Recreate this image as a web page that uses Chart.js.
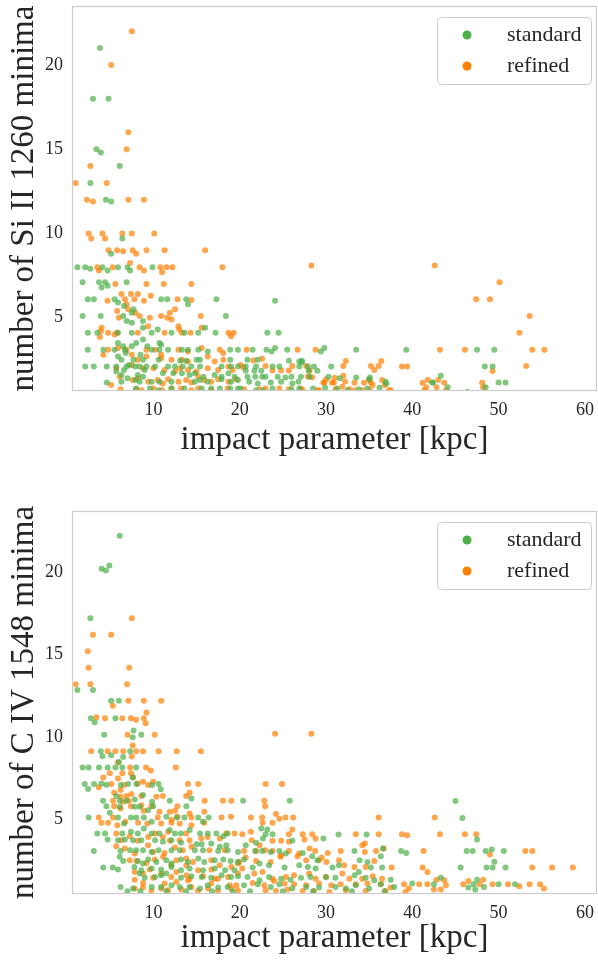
<!DOCTYPE html>
<html>
<head>
<meta charset="utf-8">
<script src="https://cdn.jsdelivr.net/npm/chart.js@4.4.1/dist/chart.umd.min.js"></script>
<style>
  html, body { margin: 0; padding: 0; background: #fff; }
  .panel { position: absolute; left: 0; width: 598px; height: 480px; }
</style>
</head>
<body>
<div class="panel" style="top:0"><canvas id="siChart" width="598" height="480"></canvas></div>
<div class="panel" style="top:480px"><canvas id="civChart" width="598" height="480"></canvas></div>
<script>
const seriesLabels = ['standard', 'refined'];
const seriesColors = ['#4daf4a', '#ff7f00'];
const xTickValues = [10, 20, 30, 40, 50, 60];
const yTickValues = [5, 10, 15, 20];

// Si II 1260 panel, [impact parameter, number of minima]
const siStandard = [
  [3.8,21],[3.0,18],[4.8,18],[3.4,15],[3.9,14.8],[6.1,14],[2.7,13],[4.5,12],[5.1,11.9],[6.4,9.7],[5.1,8.8],
  [1.2,8],[2.1,8],[2.7,7.9],[4.1,8],[4.7,7.8],[5.9,8],[7.0,8],[7.3,7.8],[9.9,8],
  [1.8,7.1],[3.7,7.1],[4.4,7.1],[4.0,6.8],[4.7,6.9],[6.9,7.1],
  [2.4,6.1],[3.1,6.1],[5.5,6.1],[5.9,5.9],[6.6,5.7],[10.9,6.1],[11.6,6.1],[13.8,6.1],[14.0,5.8],[17.3,6.1],[24.1,6.0],
  [7.7,5.5],[1.8,5.1],[3.9,5.1],[6.5,5.1],[7.5,5.3],[18.4,5.1],[6.9,4.8],[7.5,4.7],[8.8,4.8],
  [2.4,4.1],[3.5,4.1],[5.9,4.1],[7.5,4.1],[8.8,4.4],[9.8,4.1],[10.5,4.3],[12.1,4.1],[13.6,4.1],[15.2,4.1],[16.0,4.4],[17.2,4.1],[23.2,4.1],[24.5,4.1],
  [5.9,3.5],[8.0,3.5],[8.8,3.7],[10.7,3.5],[10.9,3.4],[6.5,3.3],[9.3,3.3],
  [2.4,3.1],[4.2,3.1],[5.5,3.1],[6.7,3.1],[7.5,3.3],[9.8,3.1],[10.7,3.1],[11.7,3.1],[13.3,3.1],[14.0,3.1],[15.2,3.1],[16.3,3.0],[18.9,3.1],[19.8,3.1],
  [21.5,3.1],[23.1,3.1],[23.7,3.0],[24.1,3.2],[25.5,3.1],[29.4,3.0],[29.8,3.2],[33.5,3.1],[39.3,3.1],[47.5,3.1],[49.5,3.1],
  [5.9,2.7],[6.3,2.5],[6.8,2.9],[7.7,2.5],[8.5,2.8],[8.8,2.5],[10.6,2.5],[13.1,2.45],[13.8,2.45],[15.0,2.5],[15.4,2.5],[18.9,2.5],[20.9,2.5],[22.1,2.5],[25.7,2.45],[27.2,2.45],[26.9,2.4],[27.2,2.35],
  [2.1,2.1],[3.1,2.1],[4.6,2.1],[5.7,2.1],[6.9,2.1],[7.2,2.2],[7.9,2.1],[8.4,2.1],[9.2,2.1],[10.2,2.1],[11.7,2.1],[12.5,2.1],[13.4,2.1],[14.4,2.1],[15.4,2.1],[17.9,2.1],[19.0,2.1],[19.8,2.1],
  [20.7,2.1],[21.9,2.1],[23.8,2.1],[24.6,2.1],[26.9,2.1],[27.9,2.1],[28.6,2.1],[30.6,2.1],[48.4,2.1],[49.3,2.1],
  [5.7,1.8],[6.3,1.6],[6.6,1.9],[8.2,1.6],[8.8,1.5],[9.0,1.9],[11.1,1.7],[12.3,1.7],[13.3,1.7],[14.2,1.6],[14.8,1.7],[15.8,1.5],[17.1,1.6],[17.9,1.5],[18.7,1.7],[19.4,1.5],
  [20.7,1.85],[21.7,1.85],[22.5,1.85],[28.0,1.85],[29.0,1.85],
  [20.9,1.5],[21.8,1.5],[22.6,1.5],[23.0,1.5],[24.4,1.5],[25.3,1.45],[26.0,1.5],[27.1,1.5],[28.1,1.5],[30.3,1.5],[33.5,1.45],[35.1,1.45],[43.3,1.55],
  [4.6,1.15],[6.3,1.2],[7.0,1.4],[7.9,1.3],[8.4,1.2],[9.8,1.2],[10.7,1.2],[12.1,1.2],[14.8,1.2],[15.4,1.3],[16.3,1.2],[17.9,1.35],[19.0,1.2],[19.8,1.3],
  [21.1,1.2],[22.1,1.1],[23.6,1.15],[24.8,1.2],[26.1,1.1],[26.8,1.2],[31.6,1.4],[35.0,1.35],[36.9,1.2],[42.4,1.15],[50.0,1.15],[50.8,1.15],
  [8.0,0.8],[9.6,0.8],[10.6,0.7],[12.1,0.8],[13.6,0.8],[15.6,0.8],[16.7,0.8],[17.7,0.8],[18.9,0.8],[19.8,0.8],
  [20.1,0.8],[21.9,0.7],[22.7,0.7],[23.8,0.8],[26.0,0.75],[26.9,0.8],[28.5,0.8],[29.9,0.85],[31.3,0.8],[32.5,0.7],[33.8,0.75],[34.8,0.8],[36.2,0.85],[37.0,1.1],[42.3,1.15],[44.1,0.87],[48.5,0.87],[46.4,0.6]
];

const siRefined = [
  [7.5,22],[5.1,20],[7.1,16],[6.9,15],[2.7,14],[1.0,13],[4.6,13],[2.3,12],[3.0,11.9],[7.1,12],[8.9,12],
  [2.5,10],[2.8,9.7],[4.1,10],[4.4,9.7],[6.4,10],[7.5,10],[10.1,10],
  [4.8,9],[5.8,9],[6.5,8.95],[7.6,9],[8.0,8.8],[9.2,9],[11.3,9],[16.0,9],
  [3.5,8],[3.7,7.8],[5.3,8],[7.3,8.25],[8.4,8],[8.9,7.8],[10.8,8],[11.0,7.7],[11.5,8],[12.2,8],[18.0,8],[28.3,8.1],[42.6,8.1],
  [5.6,7],[9.2,7],[11.2,7],[14.4,7],[50.1,7.1],
  [4.7,6.0],[6.3,6.4],[7.4,6.4],[8.2,6.4],[9.7,6.3],[6.7,6.1],[7.8,6.1],[8.9,6.0],[12.8,6.1],[14.4,6.05],[47.4,6.1],[49.0,6.1],
  [6.9,5.8],[7.1,5.5],[7.9,5.3],[8.4,5.1],[9.6,5.0],[10.9,5.1],[11.9,5.3],[12.5,5.5],[12.1,4.9],[11.6,5.0],[12.9,4.5],[15.5,5.1],[5.8,5.4],[6.0,5.0],
  [53.6,5.1],[52.4,4.1],
  [4.0,4.4],[4.75,4.1],[5.8,4.1],[3.8,3.85],[3.9,4.2],[5.5,4.0],[8.2,4.1],[9.4,4.5],[11.3,4.1],[13.3,4.1],[14.3,4.1],[13.0,4.3],[15.6,4.4],[18.7,4.1],[19.3,4.1],[19.0,3.9],
  [4.75,3.1],[5.9,3.2],[6.9,3.1],[9.2,3.1],[10.2,3.1],[12.9,3.1],[14.0,3.0],[15.6,3.2],[17.7,3.1],[20.8,3.1],[26.7,3.1],[28.8,3.1],[43.2,3.1],[46.1,3.1],[53.9,3.1],[55.3,3.1],
  [4.2,2.8],[7.5,2.8],[10.9,2.8],[18.1,2.9],[8.2,2.5],[9.2,2.7],[10.9,2.6],[12.1,2.5],[13.3,2.5],[14.0,2.4],[16.3,2.7],[17.1,2.4],[18.1,2.5],[21.6,2.46],[22.6,2.57],[32.3,2.43],[36.4,2.43],
  [5.7,2.0],[7.5,2.2],[8.8,2.0],[10.0,2.0],[11.3,1.9],[12.5,1.8],[13.1,2.0],[14.0,1.9],[15.0,1.8],[16.3,2.0],[17.5,1.9],[18.7,2.1],[19.2,1.9],
  [20.1,2.2],[20.4,2.06],[23.0,2.14],[23.8,1.86],[24.8,1.86],[25.7,1.86],[26.1,2.14],[27.7,2.14],[28.1,1.86],[32.0,2.13],[35.2,2.13],[36.1,2.13],[35.6,1.9],[38.8,2.1],[39.4,2.1],[53.2,2.13],[49.3,1.84],
  [5.1,1.0],[6.1,1.5],[7.6,1.3],[8.2,1.4],[9.4,1.2],[10.5,1.3],[11.1,1.1],[11.7,1.35],[12.9,1.2],[13.8,1.3],[14.4,1.15],[15.2,1.5],[15.9,1.3],[16.7,1.2],[17.5,1.35],[18.7,1.2],[19.6,1.35],
  [27.9,1.51],[28.4,1.47],[30.0,1.35],[29.8,1.15],[30.9,1.15],[32.0,1.55],[32.2,1.21],[35.2,1.15],[35.0,1.31],[36.5,1.3],[36.8,1.0],
  [29.7,1.14],[31.0,1.44],[30.7,1.14],[31.9,0.9],[33.3,1.14],[34.4,1.14],[35.4,1.0],
  [41.2,1.14],[41.8,1.3],[41.6,0.87],[42.8,0.87],[43.0,1.3],[43.7,1.14],[48.1,1.14],[48.2,0.87],
  [6.2,0.75],[8.0,0.75],[8.6,0.7],[10.0,0.8],[11.0,0.7],[12.1,0.8],[13.2,0.8],[14.4,0.7],[15.2,0.8],[16.7,0.7],[18.6,0.8],
  [20.5,0.75],[22.3,0.75],[23.0,0.8],[24.6,0.8],[25.7,0.75],[27.1,0.8],[29.2,0.7],[31.1,0.75],[32.7,0.75],[34.2,0.7],[37.5,0.7],
  [27.3,0.7],[29.0,0.7],[33.3,0.7],[35.1,0.7],[37.3,0.7],[41.4,0.7],[43.9,0.7]
];

// C IV 1548 panel, [impact parameter, number of minima]
const civStandard = [
  [6.1,22.2],[4.0,20.2],[4.5,20.1],[4.9,20.4],[2.7,17.2],
  [1.2,12.85],[3.0,12.85],[5.1,12.2],[6.0,12.2],[2.75,11.15],[3.2,10.9],[5.6,11.15],[7.7,10.4],[7.6,10.0],[8.6,10.15],[4.3,10.15],
  [3.9,9.15],[7.3,9.15],[4.1,8.85],[5.1,8.9],[6.5,8.8],[6.0,8.5],
  [1.8,8.16],[2.5,8.16],[3.7,8.16],[4.7,8.16],[5.6,8.16],[6.4,8.16],[8.0,8.16],[7.6,7.57],
  [2.05,7.16],[2.44,6.86],[3.13,7.16],[3.98,7.2],[4.56,7.12],[6.22,7.1],[7.07,7.16],[8.03,7.16],[9.85,7.1],[10.6,7.16],[10.85,6.84],
  [5.72,6.43],[6.1,6.15],[6.88,6.15],[7.84,6.23],[8.8,6.49],[9.85,6.09],[11.9,6.15],
  [4.17,6.15],[4.56,5.82],[4.95,5.42],[6.1,5.78],[7.84,5.78],[8.42,5.78],[9.38,5.58],[9.96,5.82],[13.82,5.82],[14.4,6.29],
  [2.5,5.14],[5.9,5.14],[6.6,4.77],[7.4,5.14],[8.0,5.14],[8.9,5.14],[9.8,4.87],[11.5,5.18],[12.7,5.14],[13.6,5.14],[15.2,5.14],[15.75,4.87],[16.4,5.14],
  [3.5,4.16],[4.4,4.16],[6.4,4.16],[7.4,4.27],[8.9,4.47],[8.2,4.16],[9.8,4.16],[10.7,4.16],[11.9,4.37],[12.5,4.16],[13.2,4.16],[14.2,4.37],[15.4,4.16],[16.3,4.16],[17.3,4.16],[18.1,4.0],[18.6,4.16],
  [4.7,3.8],[5.9,3.76],[6.7,3.8],[7.65,3.76],[8.6,3.76],[10.2,3.76],[11.1,3.66],[12.1,3.76],[13.2,3.6],[15.0,3.52],[15.6,3.52],[16.7,3.56],[17.7,3.36],[18.45,3.46],
  [3.1,3.11],[6.2,3.11],[7.3,3.15],[8.0,3.15],[8.8,3.15],[9.8,3.05],[10.6,3.15],[12.1,3.15],[13.05,3.15],[14.8,3.15],[15.75,3.15],[17.5,3.11],[18.6,3.15],[19.8,3.05],
  [6.1,2.75],[6.5,2.5],[8.2,2.5],[8.8,2.34],[9.4,2.59],[10.35,2.44],[11.5,2.55],[12.1,2.34],[13.2,2.59],[14.0,2.44],[15.2,2.65],[15.9,2.44],[17.1,2.55],[18.1,2.59],[18.95,2.5],[19.8,2.44],
  [4.2,2.1],[5.3,2.1],[5.9,1.98],[7.8,2.14],[8.6,1.94],[9.8,2.04],[10.9,1.98],[12.1,2.14],[13.2,1.94],[14.2,2.04],[15.75,1.94],[17.1,2.04],[18.3,1.94],[19.4,1.94],
  [8.4,1.74],[9.0,1.49],[10.2,1.53],[10.9,1.63],[11.5,1.74],[13.2,1.49],[14.4,1.57],[15.6,1.53],[16.7,1.49],[17.9,1.63],[19.0,1.53],[19.8,1.57],
  [6.2,0.93],[7.65,0.83],[9.8,0.93],[10.9,0.93],[12.1,1.03],[13.05,0.93],[14.2,0.93],[15.4,0.83],[16.3,1.03],[17.5,0.89],[18.6,0.93],
  [7.0,0.66],[8.5,0.66],[11.5,0.66],[13.8,0.66],[16.8,0.66],[19.2,0.66],
  [20.4,6.15],[25.8,6.15],[31.45,4.1],[34.7,4.1],
  [22.5,4.47],[23.2,4.41],[23.8,4.12],[23.0,4.12],[26.1,3.72],[29.7,3.86],[22.7,3.86],[21.9,3.6],[20.7,3.46],
  [21.8,3.11],[22.6,3.11],[23.6,3.05],[24.6,3.11],[25.35,2.95],[27.3,2.99],[28.4,2.79],[29.0,2.55],[33.3,3.11],[33.9,2.55],[34.8,2.44],[36.35,2.79],[36.6,3.25],[38.7,3.11],[39.3,2.99],
  [20.5,2.59],[21.5,2.1],[22.3,2.34],[23.4,2.24],[25.2,2.1],[26.9,2.24],[27.9,2.14],[28.8,2.04],[30.75,2.1],[31.5,2.24],[33.8,1.84],[35.2,2.1],[36.5,2.1],
  [20.9,1.53],[22.3,1.33],[23.4,1.53],[24.8,1.43],[25.9,1.37],[27.1,1.49],[28.2,1.53],[30.0,1.53],[31.1,1.49],[33.3,1.63],[34.6,1.49],[35.6,1.33],[37.5,1.37],[40.0,1.13],
  [20.5,1.03],[22.1,1.09],[23.6,0.93],[24.6,1.09],[26.1,0.83],[27.7,0.93],[29.2,0.89],[31.1,0.93],[32.3,0.83],[33.45,1.03],[35.0,0.83],[36.35,1.09],[37.9,0.93],
  [21.2,0.66],[25.0,0.66],[28.5,0.66],[33.0,0.66],[36.8,0.66],
  [45.0,6.13],[45.8,5.1],[47.5,3.8],[46.3,3.11],[47.0,3.11],[48.5,3.11],[49.2,3.19],[50.6,3.11],[49.5,2.45],[45.6,2.1],[48.6,2.1],[49.3,2.1],[50.8,2.1],
  [43.3,1.49],[42.5,1.09],[47.5,1.37],[47.1,1.09],[48.3,0.93],[46.5,0.89],[47.3,0.77],[50.0,1.09],[51.9,1.09]
];

const civRefined = [
  [7.5,17.2],[3.0,16.2],[5.1,16.2],[2.4,15.2],[2.5,14.2],[7.2,14.2],[1.0,13.2],[2.7,13.2],[6.95,13.2],
  [7.1,12.2],[8.9,12.2],[10.9,12.2],[5.3,11.9],[9.2,11.5],
  [3.4,11.2],[4.4,11.15],[6.4,11.15],[7.4,11.15],[8.0,11.05],[8.9,11.15],[9.1,10.85],
  [7.0,10.15],[10.15,10.15],[24.1,10.2],[28.3,10.2],
  [2.8,9.15],[4.7,9.15],[5.6,9.15],[6.5,9.15],[8.0,9.15],[8.8,9.15],[10.6,9.15],[12.7,9.15],[15.5,9.15],
  [7.6,9.5],[7.5,8.83],[5.9,8.46],[7.3,8.16],[9.15,8.16],[12.6,8.16],[9.7,7.98],
  [4.2,7.56],[4.95,7.81],[5.9,7.5],[6.4,7.81],[7.4,7.81],[7.65,7.56],
  [3.67,6.96],[5.14,7.16],[6.2,6.8],[6.6,7.1],[8.2,7.2],[8.8,7.3],[9.4,7.1],[9.96,7.3],[14.0,7.16],[15.2,7.16],
  [5.45,6.63],[6.2,6.39],[6.88,6.43],[7.45,6.55],[8.6,6.43],[10.35,6.39],[11.1,6.43],[13.8,6.43],[14.2,6.63],
  [5.33,6.15],[6.49,6.09],[7.15,6.15],[8.6,5.88],[9.77,5.82],[12.78,5.82],[15.94,6.15],[18.06,6.15],[19.03,6.15],
  [5.45,5.82],[6.2,5.68],[7.4,5.82],[8.9,5.54],[10.7,5.48],[11.9,5.48],[12.5,5.54],[12.8,5.18],[12.1,5.0],[14.2,5.38],[15.9,5.48],
  [3.67,5.14],[3.98,4.81],[4.75,4.81],[5.33,5.14],[5.83,4.67],[6.76,4.87],[8.23,4.81],[9.3,4.77],[10.5,5.14],[10.9,4.77],[12.1,4.81],[13.05,4.77],[14.4,5.14],[14.4,4.67],[15.9,4.81],[17.9,5.14],[19.0,5.18],
  [5.7,4.16],[6.3,3.76],[7.26,4.0],[8.2,3.72],[9.4,3.96],[10.2,4.16],[11.1,3.96],[11.7,4.27],[11.9,3.72],[13.05,3.76],[13.8,4.16],[14.2,3.76],[15.55,3.86],[16.3,3.96],[17.7,3.86],[18.45,4.16],[19.4,4.16],
  [5.7,3.4],[6.7,3.25],[7.84,2.95],[9.38,3.46],[9.96,3.05],[11.3,2.99],[12.5,3.31],[13.4,3.15],[14.4,3.36],[16.5,3.15],[18.26,3.15],
  [7.26,2.55],[8.03,2.5],[9.19,2.38],[10.16,2.59],[11.12,2.75],[12.08,2.24],[12.66,2.55],[13.82,2.65],[13.82,2.24],[14.59,2.44],[16.71,2.55],[17.68,2.24],[19.03,2.14],[19.8,2.34],
  [7.84,1.84],[8.8,1.74],[9.58,1.98],[10.93,1.74],[12.08,1.53],[12.66,1.84],[13.82,1.63],[14.2,1.43],[15.17,1.94],[15.75,1.57],[16.71,1.98],[17.1,1.43],[18.64,1.53],[19.8,1.74],
  [7.84,1.37],[8.8,1.17],[9.96,1.49],[11.3,1.13],[12.66,1.23],[14.01,1.33],[14.4,0.93],[16.71,1.13],[17.48,1.43],[18.84,1.03],[19.6,1.03],
  [7.84,0.83],[8.8,0.89],[9.77,0.68],[10.93,0.83],[11.7,0.72],[13.24,0.77],[15.17,0.68],[16.33,0.83],[17.48,0.68],[19.03,0.83],[19.8,0.72],
  [23.0,7.16],[24.9,7.16],[22.85,6.15],[22.95,5.82],
  [24.2,5.34],[24.6,5.06],[25.3,5.14],[26.2,5.14],[21.3,5.14],[22.6,5.14],[22.65,4.81],[23.8,4.81],[36.1,5.14],[42.6,5.14],
  [20.3,4.12],[21.3,4.27],[25.7,4.12],[26.1,4.41],[27.3,4.12],[28.4,4.12],[33.45,4.12],[36.1,4.12],[38.8,4.12],[39.4,4.06],
  [21.4,3.76],[22.3,3.46],[23.8,3.72],[24.8,3.72],[25.7,3.66],[27.5,3.8],[28.8,3.86],[34.2,3.46],[34.5,3.56],[35.8,3.11],[36.7,3.25],
  [20.5,3.11],[21.9,3.11],[22.95,3.15],[23.8,3.11],[24.8,2.85],[25.7,3.11],[26.9,2.95],[28.1,3.25],[28.75,3.11],[29.5,2.71],[30.2,2.99],[31.7,3.11],[34.5,3.05],[41.3,3.11],
  [19.95,2.44],[20.7,2.71],[21.9,2.5],[23.6,2.44],[24.7,2.75],[26.7,2.79],[27.7,2.55],[29.2,2.55],[30.05,2.44],[31.5,2.55],[32.1,2.24],[33.3,2.14],[34.6,2.14],[35.6,2.5],[37.6,2.1],[41.2,2.1],[41.75,1.84],
  [20.3,2.04],[21.7,1.74],[22.65,1.84],[23.8,1.43],[25.35,1.53],[26.3,1.63],[28.05,1.74],[28.8,1.43],[30.0,1.53],[31.9,1.74],[32.7,1.43],[34.2,1.43],[35.4,1.57],[36.5,1.43],[39.05,1.09],[40.8,1.09],[41.75,1.09],
  [21.5,1.17],[22.85,1.03],[24.0,1.29],[25.2,1.13],[26.3,1.09],[27.7,1.03],[29.2,1.13],[30.6,1.03],[31.7,1.09],[33.45,1.09],[34.8,1.13],[36.35,1.09],[37.5,0.89],[39.6,0.83],
  [23.0,0.72],[24.2,0.68],[25.55,0.77],[27.3,0.68],[28.6,0.68],[30.4,0.62],[32.3,0.72],[34.6,0.68],[36.9,0.68],[39.2,0.62],
  [43.2,4.12],[46.1,4.12],[47.4,4.12],[49.0,2.89],[53.1,3.11],[53.9,3.11],[53.9,2.1],[56.2,2.1],[58.6,2.1],
  [42.8,1.37],[43.7,1.33],[43.9,1.03],[45.9,1.09],[46.5,1.29],[47.8,1.09],[48.2,1.37],[49.3,1.09],[51.1,1.09],[52.4,0.97],[53.6,1.09],[54.8,1.09],[55.25,0.83],[43.3,0.77],[42.5,0.77]
];

const textColor = '#262626';
const fontFamily = '"Liberation Serif", "Times New Roman", serif';

function toPoints(pairs) {
  return pairs.map(p => ({ x: p[0], y: p[1] }));
}

function fixTicks(values) {
  return scale => { scale.ticks = values.map(v => ({ value: v })); };
}

// axes frame on all four sides + legend box like the seaborn one
const frameAndLegend = {
  id: 'frameAndLegend',
  afterDraw(chart) {
    const { ctx, chartArea: a } = chart;
    ctx.save();
    ctx.strokeStyle = '#cccccc';
    ctx.lineWidth = 1.2;
    ctx.strokeRect(a.left + 0.5, a.top + 0.5, a.right - a.left - 1, a.bottom - a.top - 1);

    const w = 154, h = 67;
    const bx = a.right - 6 - w, by = a.top + 11;
    ctx.fillStyle = 'rgba(255,255,255,0.8)';
    ctx.lineWidth = 1;
    ctx.beginPath();
    ctx.roundRect(bx + 0.5, by + 0.5, w, h, 4);
    ctx.fill();
    ctx.stroke();

    ctx.font = '22px ' + fontFamily;
    ctx.textBaseline = 'middle';
    ctx.textAlign = 'left';
    chart.data.datasets.forEach((ds, i) => {
      const cy = by + 18 + i * 31;
      ctx.fillStyle = seriesColors[i];
      ctx.beginPath();
      ctx.arc(bx + 30, cy, 4.5, 0, Math.PI * 2);
      ctx.fill();
      ctx.fillStyle = textColor;
      ctx.fillText(ds.label, bx + 70, cy);
    });
    ctx.restore();
  }
};

function makeChart(id, std, ref, yTitle, o) {
  return new Chart(document.getElementById(id), {
    type: 'scatter',
    data: {
      datasets: [
        { label: seriesLabels[0], data: toPoints(std), backgroundColor: 'rgba(77,175,74,0.7)', clip: 0 },
        { label: seriesLabels[1], data: toPoints(ref), backgroundColor: 'rgba(255,127,0,0.7)', clip: 0 }
      ]
    },
    options: {
      responsive: false,
      animation: false,
      devicePixelRatio: 1,
      layout: { autoPadding: false, padding: { top: o.top, right: 1, left: 0, bottom: 0 } },
      elements: { point: { radius: 3, hoverRadius: 3, borderWidth: 0 } },
      plugins: { legend: { display: false }, tooltip: { enabled: false } },
      scales: {
        x: {
          type: 'linear',
          min: 0.57,
          max: 61.4,
          grid: { display: false, drawTicks: false },
          border: { display: false },
          afterBuildTicks: fixTicks(xTickValues),
          afterFit: s => { s.height = o.xHeight; s.paddingLeft = 0; s.paddingRight = 0; },
          ticks: { padding: 8, color: textColor, font: { family: fontFamily, size: 18 } },
          title: {
            display: true,
            text: 'impact parameter [kpc]',
            color: textColor,
            font: { family: fontFamily, size: 33 },
            padding: { top: 0, bottom: o.xTitlePad }
          }
        },
        y: {
          min: o.ymin,
          max: o.ymax,
          grid: { display: false, drawTicks: false },
          border: { display: false },
          afterBuildTicks: fixTicks(yTickValues),
          afterFit: s => { s.width = 72; s.paddingTop = 0; s.paddingBottom = 0; },
          ticks: { padding: 9, color: textColor, font: { family: fontFamily, size: 18 } },
          title: {
            display: true,
            text: yTitle,
            color: textColor,
            font: { family: fontFamily, size: 33 },
            padding: { top: 5, bottom: 0 }
          }
        }
      }
    },
    plugins: [frameAndLegend]
  });
}

makeChart('siChart', siStandard, siRefined, 'number of Si II 1260 minima',
  { top: 6, xHeight: 89, xTitlePad: 20, ymin: 0.65, ymax: 23.5 });
makeChart('civChart', civStandard, civRefined, 'number of C IV 1548 minima',
  { top: 31, xHeight: 66, xTitlePad: 2, ymin: 0.5, ymax: 23.7 });
</script>
</body>
</html>
